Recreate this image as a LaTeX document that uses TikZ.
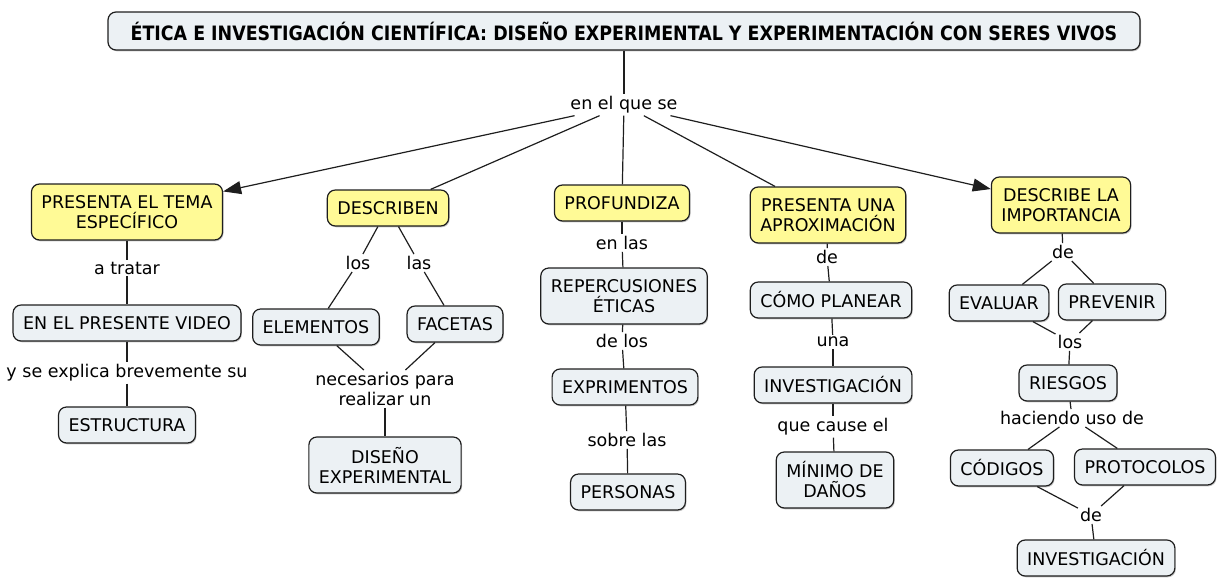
\documentclass[tikz,border=0pt]{standalone}
\usepackage{fontspec}
\setmainfont{DejaVu Sans}
\newfontfamily\titulofont{DejaVu Sans}[FakeStretch=0.88]
\usetikzlibrary{arrows.meta,shadows}
\definecolor{amarillo}{RGB}{255,250,150}
\definecolor{celeste}{RGB}{236,241,244}
\definecolor{borde}{RGB}{30,30,30}
\tikzset{
  concepto/.style={draw=borde,line width=1.2pt,fill=celeste,rounded corners=8pt,align=center,
    inner xsep=10pt,inner ysep=3pt,minimum height=36pt,font=\fontsize{17.5}{20}\selectfont,
    drop shadow={shadow xshift=1pt,shadow yshift=-1.3pt,opacity=0.45}},
  doble/.style={minimum height=56pt},
  tema/.style={concepto,fill=amarillo},
  enlace/.style={inner sep=2pt,align=center,font=\fontsize{17.5}{20}\selectfont},
  linea/.style={draw=borde,line width=1.2pt},
  flecha/.style={linea,-{Triangle[length=18pt,width=13pt]}},
}
\begin{document}
\begin{tikzpicture}[x=1pt,y=-1pt]
  \useasboundingbox (0,0) rectangle (1224,581);
  % titulo
  \node[concepto,font=\titulofont\bfseries\fontsize{19.8}{22}\selectfont,minimum width=1032pt,minimum height=38pt,inner xsep=0pt]
    (titulo) at (624,31) {ÉTICA E INVESTIGACIÓN CIENTÍFICA: DISEÑO EXPERIMENTAL Y EXPERIMENTACIÓN CON SERES VIVOS};
  \node[enlace] (queSe) at (624,105) {en el que se};

  % temas
  \node[tema,doble] (tema1) at (127,212) {PRESENTA EL TEMA\\ESPECÍFICO};
  \node[tema] (tema2) at (388,208) {DESCRIBEN};
  \node[tema] (tema3) at (622,203) {PROFUNDIZA};
  \node[tema,doble] (tema4) at (828,215) {PRESENTA UNA\\APROXIMACIÓN};
  \node[tema,doble] (tema5) at (1061,205) {DESCRIBE LA\\IMPORTANCIA};

  % columna 1
  \node[enlace] (aTratar) at (127,268) {a tratar};
  \node[concepto] (video) at (127,323) {EN EL PRESENTE VIDEO};
  \node[enlace] (ySeExplica) at (127,373) {y se explica brevemente su};
  \node[concepto] (estructura) at (127,425) {ESTRUCTURA};

  % columna 2
  \node[enlace] (los1) at (358,263) {los};
  \node[enlace] (las1) at (419,263) {las};
  \node[concepto] (elementos) at (316,327) {ELEMENTOS};
  \node[concepto] (facetas) at (455,324) {FACETAS};
  \node[enlace] (necesarios) at (385,389) {necesarios para\\realizar un};
  \node[concepto,doble] (diseno) at (385,465) {DISEÑO\\EXPERIMENTAL};

  % columna 3
  \node[enlace] (enLas) at (622,243) {en las};
  \node[concepto,doble] (repercusiones) at (624,296) {REPERCUSIONES\\ÉTICAS};
  \node[enlace] (deLos) at (622,341) {de los};
  \node[concepto] (exprimentos) at (625,387) {EXPRIMENTOS};
  \node[enlace] (sobreLas) at (627,440) {sobre las};
  \node[concepto] (personas) at (628,492) {PERSONAS};

  % columna 4
  \node[enlace] (de1) at (827,257) {de};
  \node[concepto] (planear) at (831,300) {CÓMO PLANEAR};
  \node[enlace] (una) at (833,342) {una};
  \node[concepto] (investigacion1) at (833,385) {INVESTIGACIÓN};
  \node[enlace] (queCause) at (833,427) {que cause el};
  \node[concepto,doble] (minimo) at (835,480) {MÍNIMO DE\\DAÑOS};

  % columna 5
  \node[enlace] (de2) at (1063,252) {de};
  \node[concepto] (evaluar) at (999,303) {EVALUAR};
  \node[concepto] (prevenir) at (1112,302) {PREVENIR};
  \node[enlace] (los2) at (1070,342) {los};
  \node[concepto] (riesgos) at (1068,383) {RIESGOS};
  \node[enlace] (haciendo) at (1072,418) {haciendo uso de};
  \node[concepto] (codigos) at (1002,468) {CÓDIGOS};
  \node[concepto] (protocolos) at (1145,467) {PROTOCOLOS};
  \node[enlace] (de3) at (1091,515) {de};
  \node[concepto] (investigacion2) at (1096,558) {INVESTIGACIÓN};

  % conectores
  \draw[linea] (titulo) -- (queSe);
  \draw[flecha] (queSe) -- (tema1);
  \draw[linea] (queSe) -- (tema2);
  \draw[linea] (queSe) -- (tema3);
  \draw[linea] (queSe) -- (tema4);
  \draw[flecha] (queSe) -- (tema5);

  \draw[linea] (tema1) -- (aTratar);
  \draw[linea] (aTratar) -- (video);
  \draw[linea] (video) -- (ySeExplica);
  \draw[linea] (ySeExplica) -- (estructura);

  \draw[linea] (tema2) -- (los1);
  \draw[linea] (tema2) -- (las1);
  \draw[linea] (los1) -- (elementos);
  \draw[linea] (las1) -- (facetas);
  \draw[linea] (elementos) -- (necesarios);
  \draw[linea] (facetas) -- (necesarios);
  \draw[linea] (necesarios) -- (diseno);

  \draw[linea] (tema3) -- (enLas);
  \draw[linea] (enLas) -- (repercusiones);
  \draw[linea] (repercusiones) -- (deLos);
  \draw[linea] (deLos) -- (exprimentos);
  \draw[linea] (exprimentos) -- (sobreLas);
  \draw[linea] (sobreLas) -- (personas);

  \draw[linea] (tema4) -- (de1);
  \draw[linea] (de1) -- (planear);
  \draw[linea] (planear) -- (una);
  \draw[linea] (una) -- (investigacion1);
  \draw[linea] (investigacion1) -- (queCause);
  \draw[linea] (queCause) -- (minimo);

  \draw[linea] (tema5) -- (de2);
  \draw[linea] (de2) -- (evaluar);
  \draw[linea] (de2) -- (prevenir);
  \draw[linea] (evaluar) -- (los2);
  \draw[linea] (prevenir) -- (los2);
  \draw[linea] (los2) -- (riesgos);
  \draw[linea] (riesgos) -- (haciendo);
  \draw[linea] (haciendo) -- (codigos);
  \draw[linea] (haciendo) -- (protocolos);
  \draw[linea] (codigos) -- (de3);
  \draw[linea] (protocolos) -- (de3);
  \draw[linea] (de3) -- (investigacion2);
\end{tikzpicture}
\end{document}
